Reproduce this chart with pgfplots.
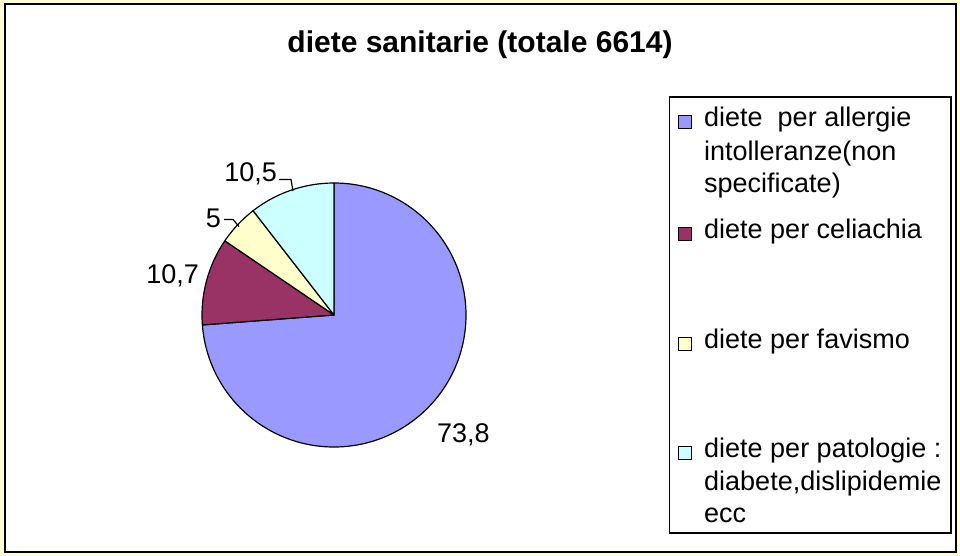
\documentclass[border=0pt]{standalone}
\usepackage{fontspec}
\setmainfont{Liberation Sans}
\usepackage{pgfplots}
\usepackage{pgfplotstable}
\pgfplotsset{compat=1.18}

\definecolor{pieblue}{HTML}{9999FF}
\definecolor{piemaroon}{HTML}{993366}
\definecolor{pieyellow}{HTML}{FFFFCC}
\definecolor{piecyan}{HTML}{CCFFFF}
\definecolor{cream}{HTML}{FFFFD2}

% shares in percent, clockwise from the top
\pgfplotstableread{
value
73.8
10.7
5
10.5
}\piedata
\pgfplotstablegetelem{0}{value}\of\piedata\let\vA\pgfplotsretval
\pgfplotstablegetelem{1}{value}\of\piedata\let\vB\pgfplotsretval
\pgfplotstablegetelem{2}{value}\of\piedata\let\vC\pgfplotsretval
\pgfplotstablegetelem{3}{value}\of\piedata\let\vD\pgfplotsretval
\pgfmathsetmacro\aA{90}
\pgfmathsetmacro\aB{\aA-3.6*\vA}
\pgfmathsetmacro\aC{\aB-3.6*\vB}
\pgfmathsetmacro\aD{\aC-3.6*\vC}
\pgfmathsetmacro\aE{\aD-3.6*\vD}

\newcommand\lfont{\fontsize{27}{32}\selectfont}

% start angle, end angle, colour
\newcommand\slice[3]{%
  \filldraw[fill=#3, draw=black, line width=1.2pt, line join=round]
    (axis cs:334,315) -- ([shift={(#1:132pt)}]axis cs:334,315)
    arc[start angle=#1, end angle=#2, radius=132pt] -- cycle;}

% legend key and text, baseline given
\newcommand\key[3]{%
  \filldraw[fill=#2, draw=black, line width=1pt]
    (axis cs:678,#1-11) rectangle (axis cs:691,#1+2);
  \node[anchor=base west, inner sep=0pt, font=\lfont] at (axis cs:704,#1) {#3};}

\begin{document}
\begin{tikzpicture}
\begin{axis}[
    x=1pt, y=1pt,
    xmin=0, xmax=960, ymin=0, ymax=556,
    y dir=reverse,
    hide axis, clip=false,
    at={(0,0)}, anchor=south west,
]
  % page and frame
  \fill[cream] (axis cs:0,0) rectangle (axis cs:960,556);
  \filldraw[fill=white, draw=black, line width=2pt]
    (axis cs:4.5,4.5) rectangle (axis cs:955.5,551.5);

  \node[anchor=base, inner sep=0pt, font=\fontsize{30}{34}\selectfont\bfseries]
    at (axis cs:480,52.7) {diete sanitarie (totale 6614)};

  \slice{\aA}{\aB}{pieblue}
  \slice{\aB}{\aC}{piemaroon}
  \slice{\aC}{\aD}{pieyellow}
  \slice{\aD}{\aE}{piecyan}

  % data labels
  \node[anchor=base west, inner sep=0pt, font=\lfont] at (axis cs:437,442) {73,8};
  \node[anchor=base east, inner sep=0pt, font=\lfont] at (axis cs:199,283) {10,7};
  \node[anchor=base east, inner sep=0pt, font=\lfont] at (axis cs:221,227) {5};
  \node[anchor=base east, inner sep=0pt, font=\lfont] at (axis cs:277,181.5) {10,5};
  \draw[line width=1.2pt] (axis cs:224,219.5) -- (axis cs:233,219.5) -- (axis cs:239,226.5);
  \draw[line width=1.2pt] (axis cs:279,179.5) -- (axis cs:291,179.5) -- (axis cs:293,191);

  % legend
  \draw[line width=1.5pt] (axis cs:669.5,97) rectangle (axis cs:951,533);
  \key{127}{pieblue}{diete\ \ per allergie}
  \node[anchor=base west, inner sep=0pt, font=\lfont] at (axis cs:704,160.5) {intolleranze(non};
  \node[anchor=base west, inner sep=0pt, font=\lfont] at (axis cs:704,193) {specificate)};
  \key{238}{piemaroon}{diete per celiachia}
  \key{348}{pieyellow}{diete per favismo}
  \key{457}{piecyan}{diete per patologie :}
  \node[anchor=base west, inner sep=0pt, font=\lfont] at (axis cs:704,490) {diabete,dislipidemie};
  \node[anchor=base west, inner sep=0pt, font=\lfont] at (axis cs:704,522) {ecc};
\end{axis}
\end{tikzpicture}
\end{document}
